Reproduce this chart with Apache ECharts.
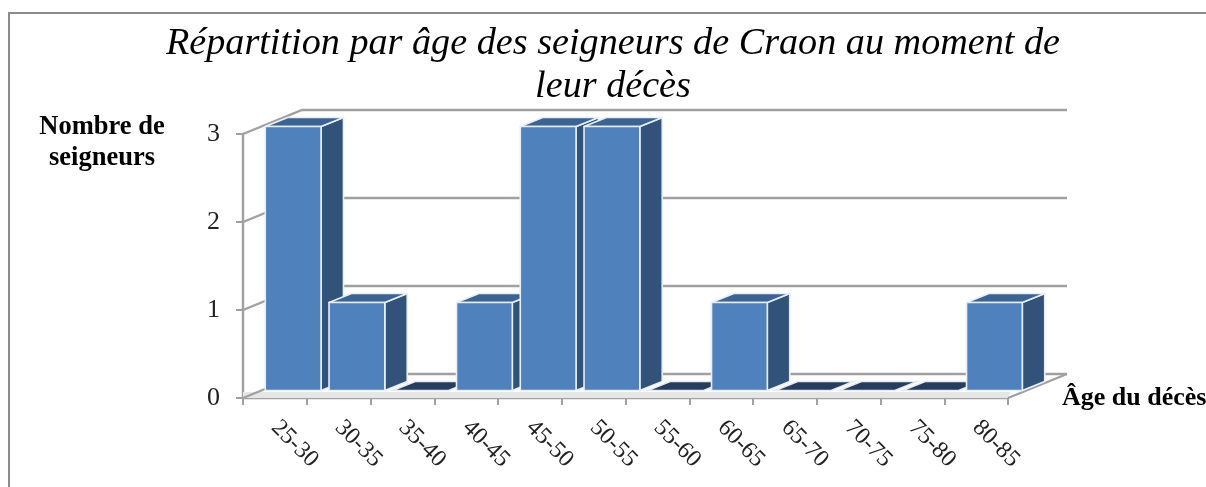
<!DOCTYPE html>
<html>
<head>
<meta charset="utf-8">
<style>html,body{margin:0;padding:0;background:#fff}#c{width:1206px;height:487px}</style>
<script src="https://cdn.jsdelivr.net/npm/echarts@6/dist/echarts.min.js"></script>
</head>
<body>
<div id="c"></div>
<script>
var titleText = "Répartition par âge des seigneurs de Craon au moment de\nleur décès";
var yAxisTitle = "Nombre de\nseigneurs";
var xAxisTitle = "Âge du décès";
var categories = ["25-30","30-35","35-40","40-45","45-50","50-55","55-60","60-65","65-70","70-75","75-80","80-85"];
var values = [3,1,0,1,3,3,0,1,0,0,0,1];
var yTicks = [0,1,2,3];

var DX = 59, DY = -24, D0 = 0.31, D1 = 0.69, GREY = "#a0a0a0", SERIF = "'Liberation Serif','DejaVu Serif',serif";
var chart = echarts.init(document.getElementById("c"), null, {renderer:"canvas"});

function wallItem(params, api){
  var n = categories.length, kids = [];
  var L = api.coord([0,0])[0] - api.size([1,0])[0]/2;
  var R = L + api.size([1,0])[0]*n;
  var y0 = api.coord([0,0])[1];
  kids.push({type:"polygon",shape:{points:[[L,y0-6],[R+3,y0-6],[R,y0],[L,y0]]},style:{fill:"#e6e6e6"}});
  yTicks.forEach(function(t){
    var y = api.coord([0,t])[1];
    kids.push({type:"polyline",shape:{points:[[L,y],[L+DX,y+DY],[R+DX,y+DY]]},style:{fill:"none",stroke:GREY,lineWidth:2.4}});
  });
  kids.push({type:"line",shape:{x1:R,y1:y0,x2:R+DX,y2:y0+DY},style:{stroke:GREY,lineWidth:2.4}});
  return {type:"group",children:kids};
}
function barItem(params, api){
  var i = api.value(0), v = api.value(1);
  var band = api.size([1,0])[0], w = band*0.875;
  var c = api.coord([i,v]), b = api.coord([i,0]);
  var x0 = c[0]-w/2+D0*DX, x1 = x0+w;
  var yB = b[1]+D0*DY, yT = c[1]+D0*DY;
  var dx = (D1-D0)*DX, dy = (D1-D0)*DY;
  var edge = {stroke:"#e8eef5",lineWidth:1.6,lineJoin:"round"};
  var top = [[x0,yT],[x0+dx,yT+dy],[x1+dx,yT+dy],[x1,yT]];
  if(v===0){
    return {type:"polygon",shape:{points:top},style:{fill:"#263d60",stroke:"#e6e9ee",lineWidth:1.5}};
  }
  return {type:"group",children:[
    {type:"polygon",shape:{points:[[x1,yT],[x1+dx,yT+dy],[x1+dx,yB+dy],[x1,yB]]},style:Object.assign({fill:"#325379"},edge)},
    {type:"polygon",shape:{points:top},style:Object.assign({fill:"#3b6495"},edge)},
    {type:"rect",shape:{x:x0,y:yT,width:w,height:yB-yT},style:Object.assign({fill:"#4f81bd"},edge)}
  ]};
}

chart.setOption({
  animation:false,
  backgroundColor:"#fff",
  title:{text:titleText,left:608,top:17,textAlign:"center",
    textStyle:{fontFamily:SERIF,fontStyle:"italic",fontWeight:"normal",fontSize:38.2,lineHeight:43,color:"#000"}},
  grid:{left:243,top:134,width:765,height:264,containLabel:false,outerBoundsMode:"none"},
  xAxis:{type:"category",data:categories,boundaryGap:true,
    name:xAxisTitle,nameLocation:"end",nameGap:54,nameMoveOverlap:false,
    nameTextStyle:{fontFamily:SERIF,fontWeight:"bold",fontSize:26,color:"#000",verticalAlign:"middle"},
    axisLine:{show:true,lineStyle:{color:GREY,width:2.4}},
    axisTick:{show:true,length:7,alignWithLabel:false,lineStyle:{color:GREY,width:2}},
    axisLabel:{interval:0,rotate:-45,margin:26,hideOverlap:false,fontFamily:SERIF,fontSize:24,color:"#222"},
    splitLine:{show:false}},
  yAxis:{type:"value",min:0,max:3,interval:1,
    name:yAxisTitle,nameLocation:"end",nameGap:-9,nameMoveOverlap:false,
    nameTextStyle:{fontFamily:SERIF,fontWeight:"bold",fontSize:26.5,lineHeight:31,color:"#000",align:"center",verticalAlign:"middle",padding:[0,282,0,0]},
    axisLine:{show:true,lineStyle:{color:GREY,width:2.4}},
    axisTick:{show:true,length:7,lineStyle:{color:GREY,width:2}},
    axisLabel:{margin:23,fontFamily:SERIF,fontSize:26,color:"#222",padding:[13,0,0,0]},
    splitLine:{show:false}},
  series:[
    {type:"custom",name:"murs",silent:true,z:1,clip:false,renderItem:wallItem,data:[[0,0]],encode:{x:0,y:1}},
    {type:"custom",name:"Nombre de seigneurs",z:3,clip:false,renderItem:barItem,
     data:categories.map(function(c,i){return [i,values[i]];}),encode:{x:0,y:1}}
  ],
  graphic:[{type:"polyline",silent:true,shape:{points:[[9,487],[9,13],[1206,13]]},style:{fill:"none",stroke:"#8c8c8c",lineWidth:2}}]
});
</script>
</body>
</html>
